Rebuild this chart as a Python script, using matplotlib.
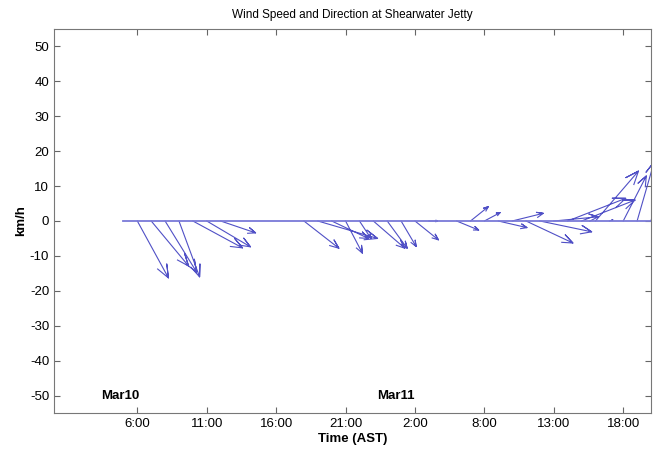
import numpy as np
import matplotlib
matplotlib.use('Agg')
import matplotlib.pyplot as plt

plt.rcParams['font.family'] = ['Liberation Sans', 'DejaVu Sans']
plt.rcParams['axes.unicode_minus'] = False

# sample index (hourly), east (u) and north (v) wind components in km/h
idx = np.arange(5, 44)
u = [0, 8.9, 10.7, 9.0, 5.9, 14.2, 12.5, 10.0, 0, 0, 0, 0, 0,
     10.0, 17.1, 10.5, 4.8, 3.3, 9.0, 5.7, 4.3, 6.7, 2.5, 0,
     6.3, 5.1, 4.5, 8.2, 8.9, 13.4, 14.8, 12.7, 16.6, 15.3, 12.3, 1.0, 6.6, 4.9, 3.0]
v = [0, -16.3, -12.9, -14.6, -16.0, -7.7, -7.4, -3.4, 0, 0, 0, 0, 0,
     -7.8, -5.0, -5.0, -9.2, -5.0, -7.8, -7.8, -7.3, -5.4, 0, 0,
     -2.6, 4.1, 2.4, -1.9, 2.2, -6.3, -3.1, 1.2, 6.5, 6.0, 14.3, 0.3, 12.9, 17.0, 12.0]

tick_pos = [6, 11, 16, 21, 26, 31, 36, 41]
tick_labels = ['6:00', '11:00', '16:00', '21:00', '2:00', '8:00', '13:00', '18:00']
day_labels = ['Mar10', 'Mar11']
day_pos = [4.8, 24.6]

xscale = 3.5 / 13.9  # km/h -> index units so arrows keep their shape on screen

fig = plt.figure(figsize=(6.54, 4.53), dpi=100)
ax = fig.add_axes([0.0826, 0.0883, 0.9128, 0.8477])

# feather arrows, same shape as MATLAB's feather()
xx = np.array([0, 1, .8, 1, .8])
yy = np.array([0, 0, .08, 0, -.08])
shape = xx + 1j * yy
px, py = [], []
for t, a, b in zip(idx, u, v):
    z = complex(a, b)
    if z == 0:
        continue
    pts = z * shape
    px.extend(list(t + pts.real * xscale) + [np.nan])
    py.extend(list(pts.imag) + [np.nan])
col = '#5050c6'
ax.plot(px, py, color=col, lw=0.8)
ax.plot([idx[0], idx[-1]], [0, 0], color='#7a7ad8', lw=1.3)

for lab, p in zip(day_labels, day_pos):
    ax.text(p, -50, lab, ha='center', va='center', fontsize=9.5, fontweight='bold')

ax.set_xlim(0, 43)
ax.set_ylim(-55, 55)
ax.set_xticks(tick_pos)
ax.set_xticklabels(tick_labels)
ax.set_yticks(np.arange(-50, 51, 10))
ax.tick_params(direction='in', top=True, right=True, labelsize=9.5, length=4, color='#666666')
for s in ax.spines.values():
    s.set_color('#777777')
ax.set_title('Wind Speed and Direction at Shearwater Jetty', fontsize=8.5, pad=8)
ax.set_xlabel('Time (AST)', fontsize=9.5, fontweight='bold', labelpad=2)
ax.set_ylabel('km/h', fontsize=9.5, fontweight='bold', labelpad=2)

fig.savefig('out.png', dpi=100)
